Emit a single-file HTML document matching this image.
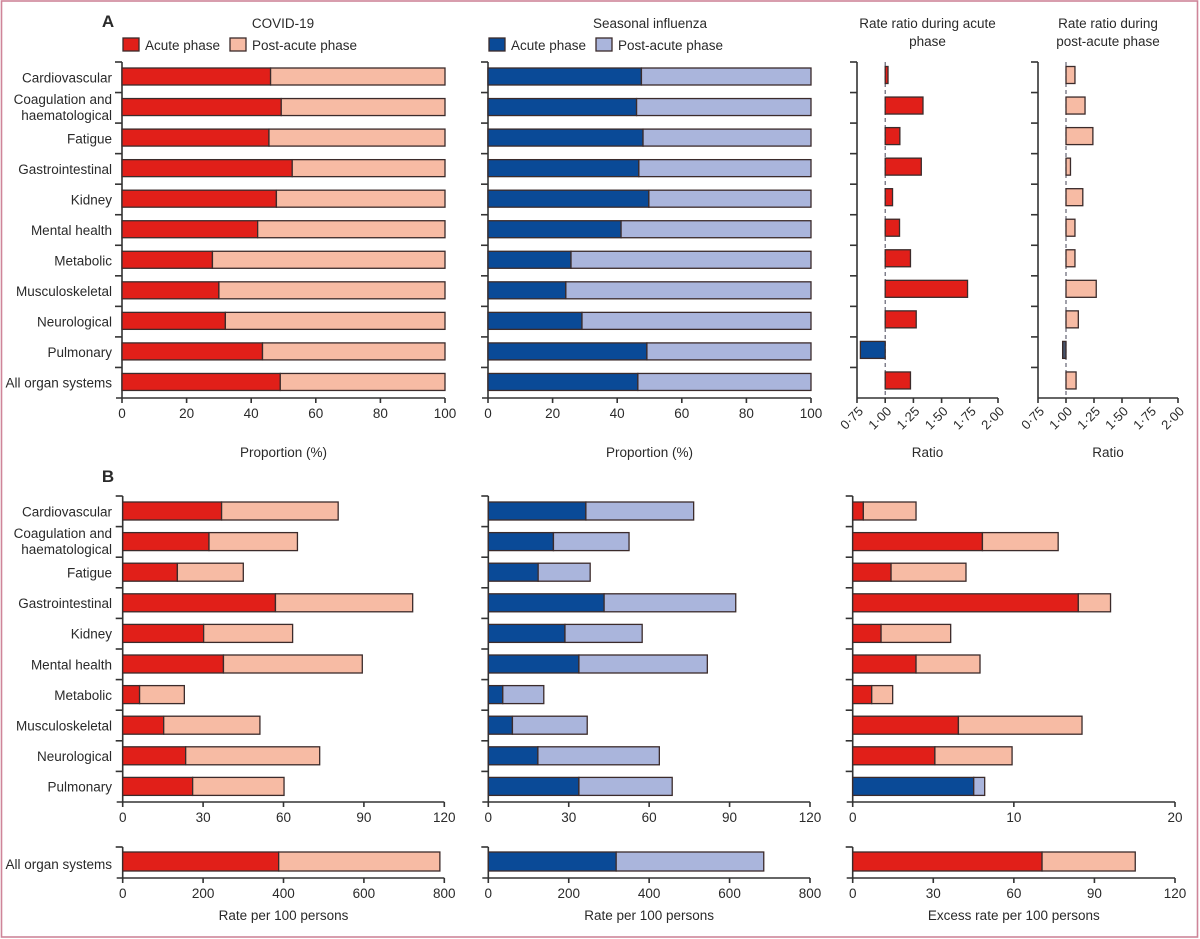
<!DOCTYPE html>
<html><head><meta charset="utf-8"><style>
html,body{margin:0;padding:0;background:#fff}
svg{display:block}
text{font-family:"Liberation Sans",sans-serif;fill:#2a2a2a}
</style></head><body>
<svg id="chart" width="1200" height="939" viewBox="0 0 1200 939">
<rect x="1.5" y="1" width="1196" height="936" fill="#fff" stroke="#cf8599" stroke-width="1.6"/>
</svg>
<script>
const categoriesA = ["Cardiovascular","Coagulation and|haematological","Fatigue","Gastrointestinal","Kidney","Mental health","Metabolic","Musculoskeletal","Neurological","Pulmonary","All organ systems"];
const covidAcutePct = [46,49.3,45.5,52.7,47.8,42,28,30,32,43.5,49];
const fluAcutePct = [47.5,46,48,46.7,49.8,41.2,25.7,24.1,29.1,49.2,46.4];
const ratioAcute = [1.025,1.335,1.13,1.32,1.065,1.127,1.224,1.73,1.275,0.78,1.224];
const ratioPost = [1.08,1.17,1.24,1.04,1.15,1.08,1.08,1.27,1.11,0.97,1.09];
const pctTicks = [0,20,40,60,80,100];
const ratioTicks = ["0·75","1·00","1·25","1·50","1·75","2·00"];
const ratioTickVals = [0.75,1,1.25,1.5,1.75,2];
const categoriesB = categoriesA.slice(0,10);
const covidAcuteRate = [36.9,32.2,20.4,57,30.2,37.6,6.3,15.3,23.5,26.1];
const covidTotalRate = [80.4,65.2,45,108.2,63.4,89.4,23,51.2,73.5,60.2];
const fluAcuteRate = [36.4,24.3,18.6,43.2,28.6,33.8,5.4,9.0,18.5,33.8];
const fluTotalRate = [76.6,52.5,38.0,92.3,57.4,81.7,20.7,36.9,63.8,68.6];
const excessAcute = [0.66,8.05,2.38,14.0,1.76,3.93,1.18,6.56,5.1,7.51];
const excessTotal = [3.93,12.75,7.03,16.0,6.08,7.9,2.48,14.23,9.89,8.19];
const excessNegative = [false,false,false,false,false,false,false,false,false,true];
const allCovid = [388,789];
const allFlu = [318,685];
const allExcess = [70.5,105.2];
const rateTicks = [0,30,60,90,120];
const excessTicks = [0,10,20];
const allRateTicks = [0,200,400,600,800];
const allExcessTicks = [0,30,60,90,120];

const NS="http://www.w3.org/2000/svg";
const svg=document.getElementById('chart');
const RED="#e11f19",PINK="#f7bba4",BLUE="#0a4a97",LBLUE="#aab5dc",OUT="#3b2b2b",AX="#333";
function el(tag,attrs,parent){const e=document.createElementNS(NS,tag);for(const k in attrs)e.setAttribute(k,attrs[k]);(parent||svg).appendChild(e);return e;}
function txt(x,y,s,size,anchor,name,extra){const t=el('text',Object.assign({x:x,y:y,'font-size':size,'text-anchor':anchor||'middle'},extra||{}));t.textContent=s;


return t;}
function lin(d0,d1,r0,r1){return v=>r0+(v-d0)/(d1-d0)*(r1-r0);}
function line(x1,y1,x2,y2,name,extra){const l=el('line',Object.assign({x1:x1,y1:y1,x2:x2,y2:y2,stroke:AX,'stroke-width':1.6},extra||{}));


return l;}
function bar(x0,x1,y,h,fill,name){const r=el('rect',{x:Math.min(x0,x1),y:y,width:Math.abs(x1-x0),height:h,fill:fill,stroke:OUT,'stroke-width':1.3});


return r;}
function slug(s){return s.replace('|',' ').toLowerCase().replace(/[^a-z0-9]+/g,'-');}

function rowLabels(cats,top,rh,name){cats.forEach((c,i)=>{const cy=top+rh*(i+0.5);const parts=c.split('|');
 if(parts.length===2){txt(112,cy-4,parts[0],13.5,'end',name+'-'+slug(c));txt(112,cy+12,parts[1],13.5,'end',name+'-'+slug(c)+'-2');}
 else txt(112,cy+5,c,13.5,'end',name+'-'+slug(c));});}

function yAxis(x,top,bottom,n,name){line(x,top,x,bottom,name);for(let i=0;i<n;i++){const y=top+(bottom-top)*i/n;line(x-7,y,x,y,name+'-tick');}}
function xAxis(x0,x1,y,sc,ticks,labels,name,extend){line(x0-(extend||6),y,x1,y,name);ticks.forEach((t,i)=>{const x=sc(t);line(x,y,x,y+5,name+'-tick');txt(x,y+20,labels?labels[i]:String(t),13.5,'middle',name+'-label-'+t);});}

// ---------- Panel A ----------
const aTop=62,aBot=398,aRH=(aBot-aTop)/11;
txt(108,27,"A",17,'middle','panel-a-label',{'font-weight':'bold'});
rowLabels(categoriesA,aTop,aRH,'row-label-a');
function stackedPct(x0,x1,acute,cA,cP,name){const sc=lin(0,100,x0,x1);yAxis(x0,aTop,aBot,11,name+'-y-axis');
 acute.forEach((v,i)=>{const y=aTop+aRH*i+6;bar(sc(0),sc(v),y,17,cA,name+'-acute-'+slug(categoriesA[i]));bar(sc(v),sc(100),y,17,cP,name+'-post-'+slug(categoriesA[i]));});
 xAxis(x0,x1,aBot,sc,pctTicks,null,name+'-x-axis');txt((x0+x1)/2,457,"Proportion (%)",13.5,'middle',name+'-x-title');}
stackedPct(122,445,covidAcutePct,RED,PINK,'covid-pct');
stackedPct(488,811,fluAcutePct,BLUE,LBLUE,'flu-pct');
txt(283,28,"COVID-19",13.5,'middle','covid-title');
txt(650,28,"Seasonal influenza",13.5,'middle','flu-title');
function legend(x,cA,cP,name){const a=el('rect',{x:x,y:38,width:16,height:13,fill:cA,stroke:OUT,'stroke-width':1.3});

txt(x+22,50,"Acute phase",13.5,'start',name+'-acute-text');
const p=el('rect',{x:x+107,y:38,width:16,height:13,fill:cP,stroke:OUT,'stroke-width':1.3});

txt(x+129,50,"Post-acute phase",13.5,'start',name+'-post-text');}
legend(123,RED,PINK,'covid-legend');
legend(489,BLUE,LBLUE,'flu-legend');

function ratioPanel(x0,x1,vals,fillPos,fillNeg,name,t1,t2){const sc=lin(0.75,2,x0,x1);yAxis(x0,aTop,aBot,11,name+'-y-axis');
 line(sc(1),aTop,sc(1),aBot,name+'-reference-line',{'stroke-dasharray':'4,3','stroke-width':1.1,stroke:'#556'});
 vals.forEach((v,i)=>{const y=aTop+aRH*i+4.5;bar(sc(1),sc(v),y,17,v<1?fillNeg:fillPos,name+'-bar-'+slug(categoriesA[i]));});
 line(x0,aBot,x1,aBot,name+'-x-axis');
 ratioTickVals.forEach((t,i)=>{const x=sc(t);line(x,aBot,x,aBot+5,name+'-x-tick');txt(x+7,aBot+14,ratioTicks[i],13,'end',name+'-x-label-'+i,{transform:`rotate(-45 ${x+7} ${aBot+14})`});});
 txt((x0+x1)/2,457,"Ratio",13.5,'middle',name+'-x-title');
 txt((x0+x1)/2,28,t1,13.5,'middle',name+'-title-1');txt((x0+x1)/2,46,t2,13.5,'middle',name+'-title-2');}
ratioPanel(857,998,ratioAcute,RED,BLUE,'ratio-acute',"Rate ratio during acute","phase");
ratioPanel(1038,1178,ratioPost,PINK,"#46536b",'ratio-post',"Rate ratio during","post-acute phase");

// ---------- Panel B ----------
const bTop=496,bBot=802,bRH=(bBot-bTop)/10;
txt(108,482,"B",17,'middle','panel-b-label',{'font-weight':'bold'});
rowLabels(categoriesB,bTop,bRH,'row-label-b');
txt(112,869,"All organ systems",13.5,'end','row-label-b-all-organ-systems');
function ratePanel(x0,x1,max,ticks,acute,total,cA,cP,name,negFlags){const sc=lin(0,max,x0,x1);yAxis(x0,bTop,bBot,10,name+'-y-axis');
 acute.forEach((v,i)=>{const y=bTop+bRH*i+6;const neg=negFlags&&negFlags[i];bar(sc(0),sc(v),y,18,neg?BLUE:cA,name+'-acute-'+slug(categoriesB[i]));bar(sc(v),sc(total[i]),y,18,neg?LBLUE:cP,name+'-post-'+slug(categoriesB[i]));});
 xAxis(x0,x1,bBot,sc,ticks,null,name+'-x-axis');}
function allPanel(x0,x1,max,ticks,vals,cA,cP,name,title){const sc=lin(0,max,x0,x1);line(x0,847,x0,878,name+'-y-axis');line(x0-7,847,x0,847,name+'-y-tick');
 bar(sc(0),sc(vals[0]),852,19,cA,name+'-acute');bar(sc(vals[0]),sc(vals[1]),852,19,cP,name+'-post');
 xAxis(x0,x1,878,sc,ticks,null,name+'-x-axis');txt((x0+x1)/2,920,title,13.5,'middle',name+'-x-title');}
ratePanel(122.7,444.3,120,rateTicks,covidAcuteRate,covidTotalRate,RED,PINK,'covid-rate');
ratePanel(488.3,810,120,rateTicks,fluAcuteRate,fluTotalRate,BLUE,LBLUE,'flu-rate');
ratePanel(852.7,1175,20,excessTicks,excessAcute,excessTotal,RED,PINK,'excess-rate',excessNegative);
allPanel(122.7,444.3,800,allRateTicks,allCovid,RED,PINK,'covid-all',"Rate per 100 persons");
allPanel(488.3,810,800,allRateTicks,allFlu,BLUE,LBLUE,'flu-all',"Rate per 100 persons");
allPanel(852.7,1175,120,allExcessTicks,allExcess,RED,PINK,'excess-all',"Excess rate per 100 persons");
</script>
</body></html>
